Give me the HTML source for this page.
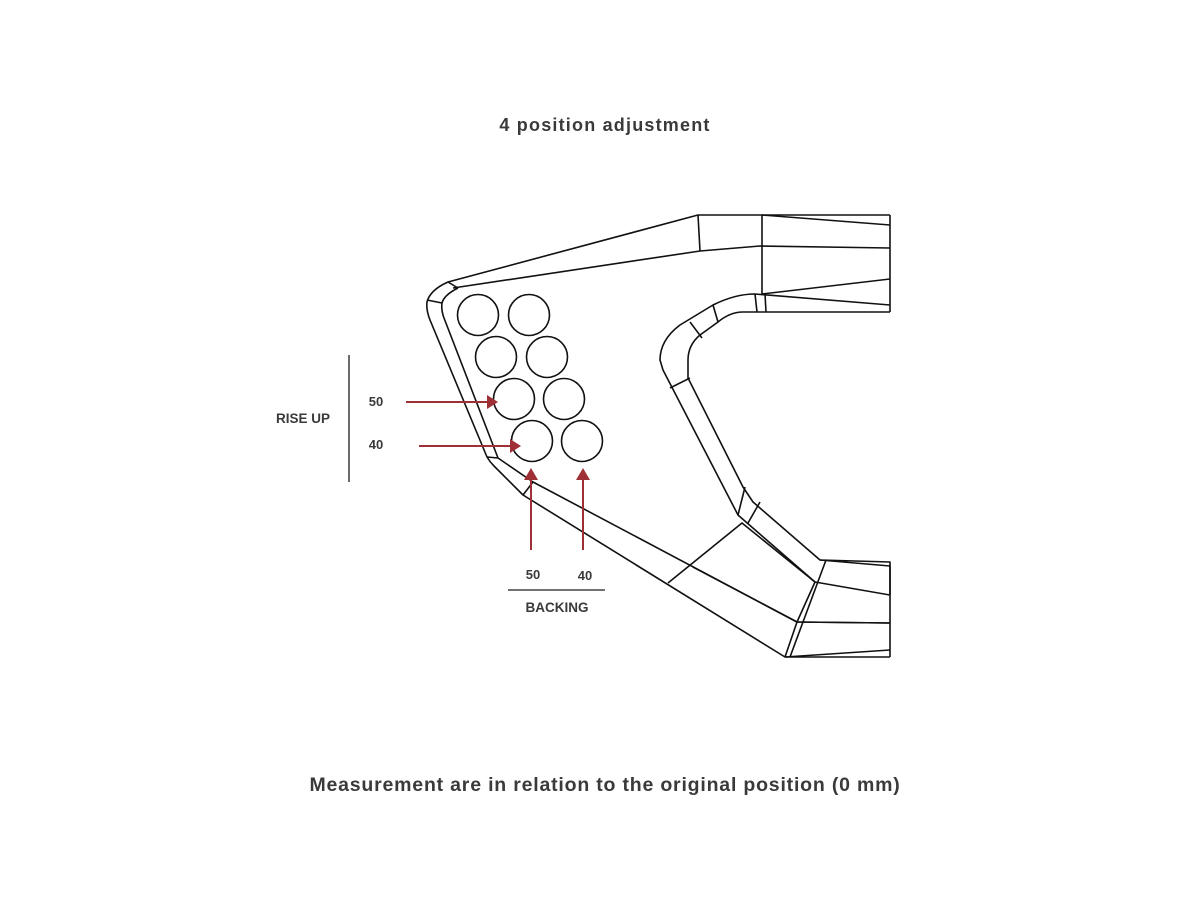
<!DOCTYPE html>
<html><head><style>
body{margin:0;background:#fff;width:1200px;height:900px;overflow:hidden}
svg{display:block}
text{font-family:"Liberation Sans",Arial,sans-serif;font-weight:bold;fill:#3a3a3a}
</style></head><body>
<svg width="1200" height="900" viewBox="0 0 1200 900">
<text x="605" y="131" font-size="18" text-anchor="middle" letter-spacing="1.2">4 position adjustment</text>
<text x="605" y="791" font-size="19.5" text-anchor="middle" letter-spacing="0.8">Measurement are in relation to the original position (0 mm)</text>
<g fill="none" stroke="#111" stroke-width="1.6" stroke-linejoin="round">
<path d="M890 215 L698 215 L448 282 Q430 290 427 302 Q426 310 430 320 L487 457 Q490 462 494 466 L523 495 L785 657 L890 657"/>
<path d="M458 288 Q444 295 442 303 Q441 310 444 318 L498 458 L533 482 L797 622 L890 623"/>
<path d="M453 288 L700 251 L760 246 L890 248"/>
<path d="M698 215 L700 251"/><path d="M762 215 L762 294"/>
<path d="M762 215 L890 225"/>
<path d="M762 294 L890 279"/>
<path d="M890 215 L890 312"/>
<path d="M448 282 L458 288"/><path d="M427 300 L442 303"/>
<path d="M487 457 L498 458"/>
<path d="M523 495 L533 482"/>
<path d="M890 312 L743 312 Q730 312 718 322 L700 335 Q688 345 688 360 L688 378 L743 487 L753 502 L820 560 L890 562 L890 657"/>
<path d="M890 305 L755 294 Q735 294 713 305 L680 325 Q660 340 660 360 L663 370 L738 515 L815 582"/>
<path d="M755 294 L757 312"/><path d="M765 294 L766 312"/>
<path d="M690 322 L702 338"/><path d="M713 305 L718 322"/>
<path d="M670 388 L690 378"/>
<path d="M738 515 L745 487"/><path d="M748 523 L760 502"/>
<path d="M668 583 L742 523 L815 582"/>
<path d="M693 567 L797 622"/>
<path d="M820 560 L890 566 L890 595"/>
<path d="M815 582 L890 595"/>
<path d="M815 582 L797 622 L785 657"/><path d="M826 560 L790 657"/>
<path d="M785 657 L890 650"/>
<path d="M797 622 L890 623"/>
</g>
<g fill="none" stroke="#111" stroke-width="1.6">
<circle cx="478" cy="315" r="20.5"/><circle cx="529" cy="315" r="20.5"/>
<circle cx="496" cy="357" r="20.5"/><circle cx="547" cy="357" r="20.5"/>
<circle cx="514" cy="399" r="20.5"/><circle cx="564" cy="399" r="20.5"/>
<circle cx="532" cy="441" r="20.5"/><circle cx="582" cy="441" r="20.5"/>
</g>
<g stroke="#9e3035" stroke-width="2" fill="#9e3035">
<line x1="406" y1="402" x2="490" y2="402"/><polygon points="498,402 487,395 487,409" stroke="none"/>
<line x1="419" y1="446" x2="513" y2="446"/><polygon points="521,446 510,439 510,453" stroke="none"/>
<line x1="531" y1="550" x2="531" y2="477"/><polygon points="531,468 524,480 538,480" stroke="none"/>
<line x1="583" y1="550" x2="583" y2="477"/><polygon points="583,468 576,480 590,480" stroke="none"/>
</g>
<line x1="349" y1="355" x2="349" y2="482" stroke="#444" stroke-width="1.6"/>
<line x1="508" y1="590" x2="605" y2="590" stroke="#444" stroke-width="1.6"/>
<text x="303" y="423" font-size="13.5" text-anchor="middle">RISE UP</text>
<text x="376" y="406" font-size="13" text-anchor="middle">50</text>
<text x="376" y="449" font-size="13" text-anchor="middle">40</text>
<text x="533" y="579" font-size="13" text-anchor="middle">50</text>
<text x="585" y="580" font-size="13" text-anchor="middle">40</text>
<text x="557" y="612" font-size="13.5" text-anchor="middle">BACKING</text>
</svg>
</body></html>
